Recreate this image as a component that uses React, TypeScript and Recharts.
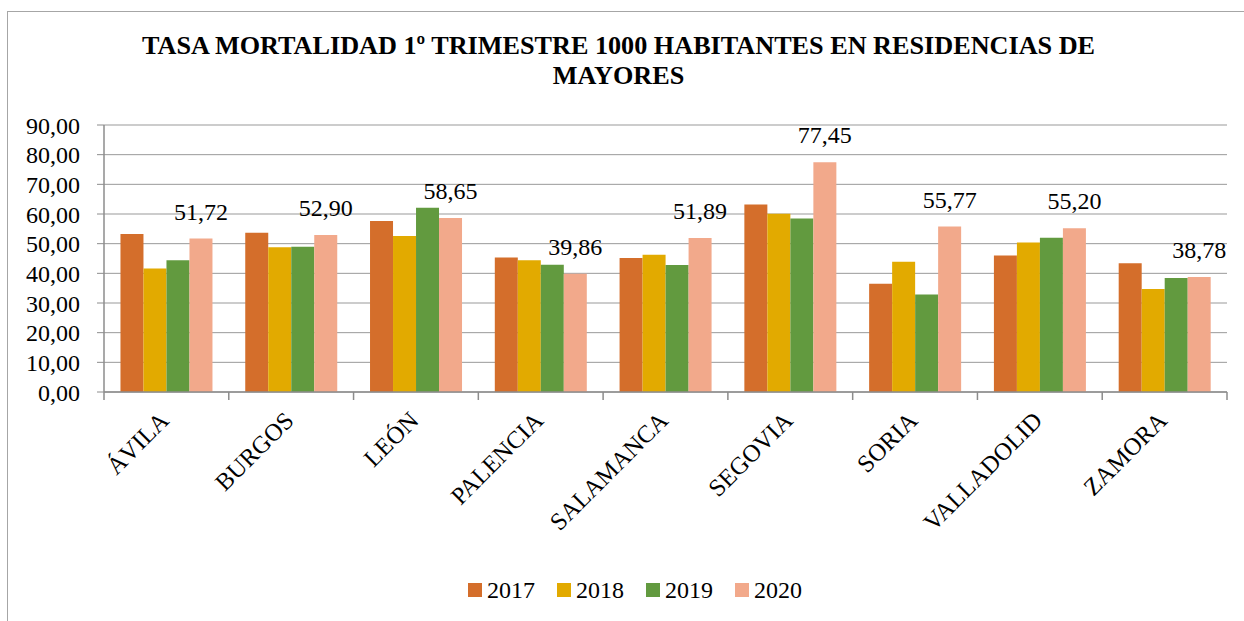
import React from 'react';
import { BarChart, Bar, XAxis, YAxis, CartesianGrid, Legend, LabelList } from 'recharts';

const provincias = ['ÁVILA', 'BURGOS', 'LEÓN', 'PALENCIA', 'SALAMANCA', 'SEGOVIA', 'SORIA', 'VALLADOLID', 'ZAMORA'];
const years = ['2017', '2018', '2019', '2020'];

const tasa2017 = [53.3, 53.7, 57.6, 45.3, 45.2, 63.2, 36.5, 46.0, 43.4];
const tasa2018 = [41.6, 48.8, 52.6, 44.4, 46.3, 60.1, 43.9, 50.4, 34.7];
const tasa2019 = [44.4, 49.0, 62.1, 42.9, 42.8, 58.5, 32.9, 52.0, 38.4];
const tasa2020 = [51.72, 52.9, 58.65, 39.86, 51.89, 77.45, 55.77, 55.2, 38.78];

const yTicks = [0, 10, 20, 30, 40, 50, 60, 70, 80, 90];

const COLORS = ['#D46E2B', '#E2AA00', '#629A3F', '#F2A98B'];
const FONT = '"Liberation Serif", "Times New Roman", serif';
const AXIS_GREY = '#8c8c8c';

// plot area geometry
const W = 1244;
const H = 621;
const PLOT_LEFT = 104;
const PLOT_RIGHT = 1227;
const BAND = (PLOT_RIGHT - PLOT_LEFT) / provincias.length;

const data = provincias.map((p, i) => ({
  name: p,
  y2017: tasa2017[i],
  y2018: tasa2018[i],
  y2019: tasa2019[i],
  y2020: tasa2020[i],
}));

const fmt = (v: number) => v.toFixed(2).replace('.', ',');

const XTick = (props: any) => {
  const { x, y, payload, index } = props;
  const last = index === provincias.length - 1;
  return (
    <g>
      <line x1={x - BAND / 2} y1={y} x2={x - BAND / 2} y2={y + 8} stroke={AXIS_GREY} strokeWidth={1.5} />
      {last && <line x1={x + BAND / 2} y1={y} x2={x + BAND / 2} y2={y + 8} stroke={AXIS_GREY} strokeWidth={1.5} />}
      <text
        transform={`translate(${x + 4},${y + 30}) rotate(-45)`}
        textAnchor="end"
        fontFamily={FONT}
        fontSize={24.5}
        fill="#000"
      >
        {payload.value}
      </text>
    </g>
  );
};

const LegendContent = (props: any) => {
  const { payload } = props;
  return (
    <div style={{ height: 30, display: 'flex', alignItems: 'center', paddingLeft: 468, fontFamily: FONT, fontSize: 24, color: '#000' }}>
      {(payload || []).map((p: any) => (
        <div key={p.value} style={{ display: 'flex', alignItems: 'center', marginRight: 22 }}>
          <span style={{ width: 14, height: 14, background: p.color, marginRight: 5, display: 'inline-block' }} />
          <span style={{ lineHeight: '30px' }}>{p.value}</span>
        </div>
      ))}
    </div>
  );
};

export default function App() {
  return (
    <div style={{ position: 'fixed', left: 0, top: 0, width: W, height: H, overflow: 'hidden', background: '#fff' }}>
      <div style={{ position: 'absolute', left: 7, top: 11, width: 1300, height: 700, border: '1px solid #a6a6a6' }} />
      <div
        style={{
          position: 'absolute', left: 0, top: 31, width: 1237, textAlign: 'center',
          fontFamily: FONT, fontWeight: 'bold', fontSize: 26.2, lineHeight: '30px', color: '#000',
        }}
      >
        TASA MORTALIDAD 1º TRIMESTRE 1000 HABITANTES EN RESIDENCIAS DE
        <br />
        MAYORES
      </div>
      <div style={{ position: 'absolute', left: 0, top: 0 }}>
        <BarChart
          width={W}
          height={H}
          data={data}
          margin={{ top: 125, right: W - PLOT_RIGHT, left: 0, bottom: 16 }}
          barCategoryGap="13.2%"
          barGap={0}
        >
          <CartesianGrid vertical={false} stroke="#999" strokeWidth={1} />
          <XAxis
            dataKey="name"
            interval={0}
            height={183}
            tickSize={0}
            tickMargin={0}
            tick={<XTick />}
            axisLine={{ stroke: AXIS_GREY, strokeWidth: 1.5 }}
            tickLine={false}
          />
          <YAxis
            width={PLOT_LEFT}
            domain={[0, 90]}
            ticks={yTicks}
            interval={0}
            tickFormatter={fmt}
            tickSize={7}
            tickMargin={17}
            tick={{ fontFamily: FONT, fontSize: 24, fill: '#000' }}
            axisLine={{ stroke: AXIS_GREY, strokeWidth: 1.5 }}
            tickLine={{ stroke: AXIS_GREY }}
          />
          <Legend verticalAlign="bottom" height={30} content={<LegendContent />} />
          {years.map((yr, i) => (
            <Bar key={yr} dataKey={`y${yr}`} name={yr} fill={COLORS[i]} isAnimationActive={false}>
              {yr === '2020' && (
                <LabelList
                  dataKey="y2020"
                  position="top"
                  offset={19}
                  formatter={(v: any) => fmt(Number(v))}
                  style={{ fontFamily: FONT, fontSize: 24, fill: '#000' }}
                />
              )}
            </Bar>
          ))}
        </BarChart>
      </div>
    </div>
  );
}
